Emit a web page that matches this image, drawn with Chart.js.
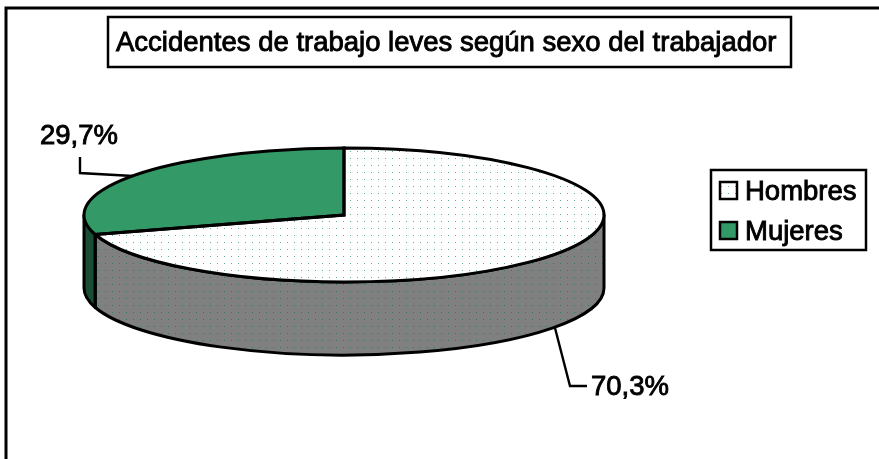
<!DOCTYPE html>
<html>
<head>
<meta charset="utf-8">
<script src="https://cdn.jsdelivr.net/npm/chart.js@4"></script>
<style>
    html, body { margin: 0; padding: 0; background: #fff; overflow: hidden; }
    canvas { display: block; }
</style>
</head>
<body>
<canvas id="chart" width="879" height="459"></canvas>
<script>
const titleText = 'Accidentes de trabajo leves según sexo del trabajador';
const categories = ['Hombres', 'Mujeres'];
const shares = [70.3, 29.7];

// elipse da pizza: o Chart.js desenha um circulo de raio ry e esticamos em x
const cx = 344, cy = 215, rx = 260, ry = 67, depth = 73;
const stretch = rx / ry;
const GREEN = '#339966', DARK_GREEN = '#1a4d33', GREY = '#808080';
const FONT = '"Liberation Sans", Arial, sans-serif';
const TEXT_SIZE = 27.5;

function dotPattern(bg, dot) {
    const c = document.createElement('canvas');
    c.width = 7; c.height = 7;
    const g = c.getContext('2d');
    if (bg) { g.fillStyle = bg; g.fillRect(0, 0, 7, 7); }
    g.fillStyle = dot;
    g.fillRect(0, 4, 1, 1);
    return document.getElementById('chart').getContext('2d').createPattern(c, 'repeat');
}

const topDots = dotPattern('#fff', '#5fb08c');
const topDotsFlat = dotPattern('#fff', '#5fb08c');
const sideDots = dotPattern(null, '#2f7a58');
// o padrao nao pode esticar junto com a pizza
topDots.setTransform(new DOMMatrix().translate(cx, cy).scale(1 / stretch, 1).translate(-cx, -cy));

function label(ctx, text, x, y) {
    ctx.font = `${TEXT_SIZE}px ${FONT}`;
    ctx.fillStyle = '#000';
    ctx.strokeStyle = '#000';
    ctx.lineWidth = 0.9;
    ctx.textAlign = 'left';
    ctx.textBaseline = 'alphabetic';
    ctx.fillText(text, x, y);
    ctx.strokeText(text, x, y);
}

function sidePath(ctx, a, b) {
    ctx.beginPath();
    ctx.ellipse(cx, cy, rx, ry, 0, a, b, false);
    ctx.ellipse(cx, cy + depth, rx, ry, 0, b, a, true);
    ctx.closePath();
}

function leader(ctx, pts) {
    ctx.beginPath();
    pts.forEach((p, i) => i ? ctx.lineTo(p[0], p[1]) : ctx.moveTo(p[0], p[1]));
    ctx.lineWidth = 2.4;
    ctx.strokeStyle = '#000';
    ctx.stroke();
}

const pie3d = {
    id: 'pie3d',
    beforeDraw(chart) {
        const ctx = chart.ctx;
        // moldura exterior, corta na borda da janela
        ctx.save();
        ctx.fillStyle = '#fff';
        ctx.fillRect(0, 0, chart.width, chart.height);
        ctx.strokeStyle = '#000';
        ctx.lineWidth = 3;
        ctx.beginPath();
        ctx.moveTo(6, chart.height + 2);
        ctx.lineTo(6, 8);
        ctx.lineTo(chart.width + 2, 8);
        ctx.stroke();
        ctx.restore();
    },
    beforeDatasetsDraw(chart) {
        const ctx = chart.ctx;
        const arcs = chart.getDatasetMeta(0).data;
        const split = arcs[0].endAngle;
        // lateral: so a metade da frente aparece
        ctx.save();
        sidePath(ctx, 0, split);
        ctx.fillStyle = GREY;
        ctx.fill();
        ctx.fillStyle = sideDots;
        ctx.fill();
        sidePath(ctx, split, Math.PI);
        ctx.fillStyle = DARK_GREEN;
        ctx.fill();
        ctx.strokeStyle = '#000';
        ctx.lineWidth = 3;
        ctx.lineJoin = 'round';
        sidePath(ctx, 0, split);
        ctx.stroke();
        sidePath(ctx, split, Math.PI);
        ctx.stroke();
        ctx.restore();

        ctx.save();
        ctx.translate(cx, cy);
        ctx.scale(stretch, 1);
        ctx.translate(-cx, -cy);
    },
    afterDatasetsDraw(chart) {
        const ctx = chart.ctx;
        ctx.restore();
        const arcs = chart.getDatasetMeta(0).data;

        ctx.save();
        ctx.strokeStyle = '#000';
        ctx.lineWidth = 3;
        ctx.lineJoin = 'miter';
        arcs.forEach(a => {
            ctx.beginPath();
            ctx.moveTo(cx, cy);
            ctx.ellipse(cx, cy, rx, ry, 0, a.startAngle, a.endAngle, false);
            ctx.closePath();
            ctx.stroke();
        });

        // caixa do titulo
        ctx.fillStyle = '#fff';
        ctx.lineWidth = 2.5;
        ctx.fillRect(108, 17, 683, 50);
        ctx.strokeRect(108, 17, 683, 50);
        label(ctx, titleText, 116, 51);

        // rotulos de percentagem com linha guia
        const pct = v => v.toFixed(1).replace('.', ',') + '%';
        leader(ctx, [[80, 157], [80, 173], [133, 176]]);
        label(ctx, pct(shares[1]), 40, 144);
        leader(ctx, [[555, 328], [570, 386], [587, 386]]);
        label(ctx, pct(shares[0]), 591, 395);

        // legenda
        ctx.fillStyle = '#fff';
        ctx.strokeStyle = '#000';
        ctx.lineWidth = 2.5;
        ctx.fillRect(711, 170, 155, 80);
        ctx.strokeRect(711, 170, 155, 80);
        const swatchFill = [topDotsFlat, GREEN];
        categories.forEach((name, i) => {
            const y = 182 + i * 40;
            ctx.fillStyle = swatchFill[i];
            ctx.fillRect(720, y, 17, 17);
            ctx.strokeStyle = '#000';
            ctx.lineWidth = 2.5;
            ctx.strokeRect(720, y, 17, 17);
            label(ctx, name, 745, y + 18);
        });
        ctx.restore();
    }
};

new Chart(document.getElementById('chart'), {
    type: 'pie',
    data: {
        labels: categories,
        datasets: [{
            data: shares,
            backgroundColor: [topDots, GREEN],
            borderWidth: 0,
            clip: false
        }]
    },
    options: {
        responsive: false,
        animation: false,
        layout: { padding: { left: cx - ry, right: 879 - cx - ry, top: cy - ry, bottom: 459 - cy - ry } },
        plugins: { legend: { display: false }, title: { display: false }, tooltip: { enabled: false } },
        events: []
    },
    plugins: [pie3d]
});
</script>
</body>
</html>
